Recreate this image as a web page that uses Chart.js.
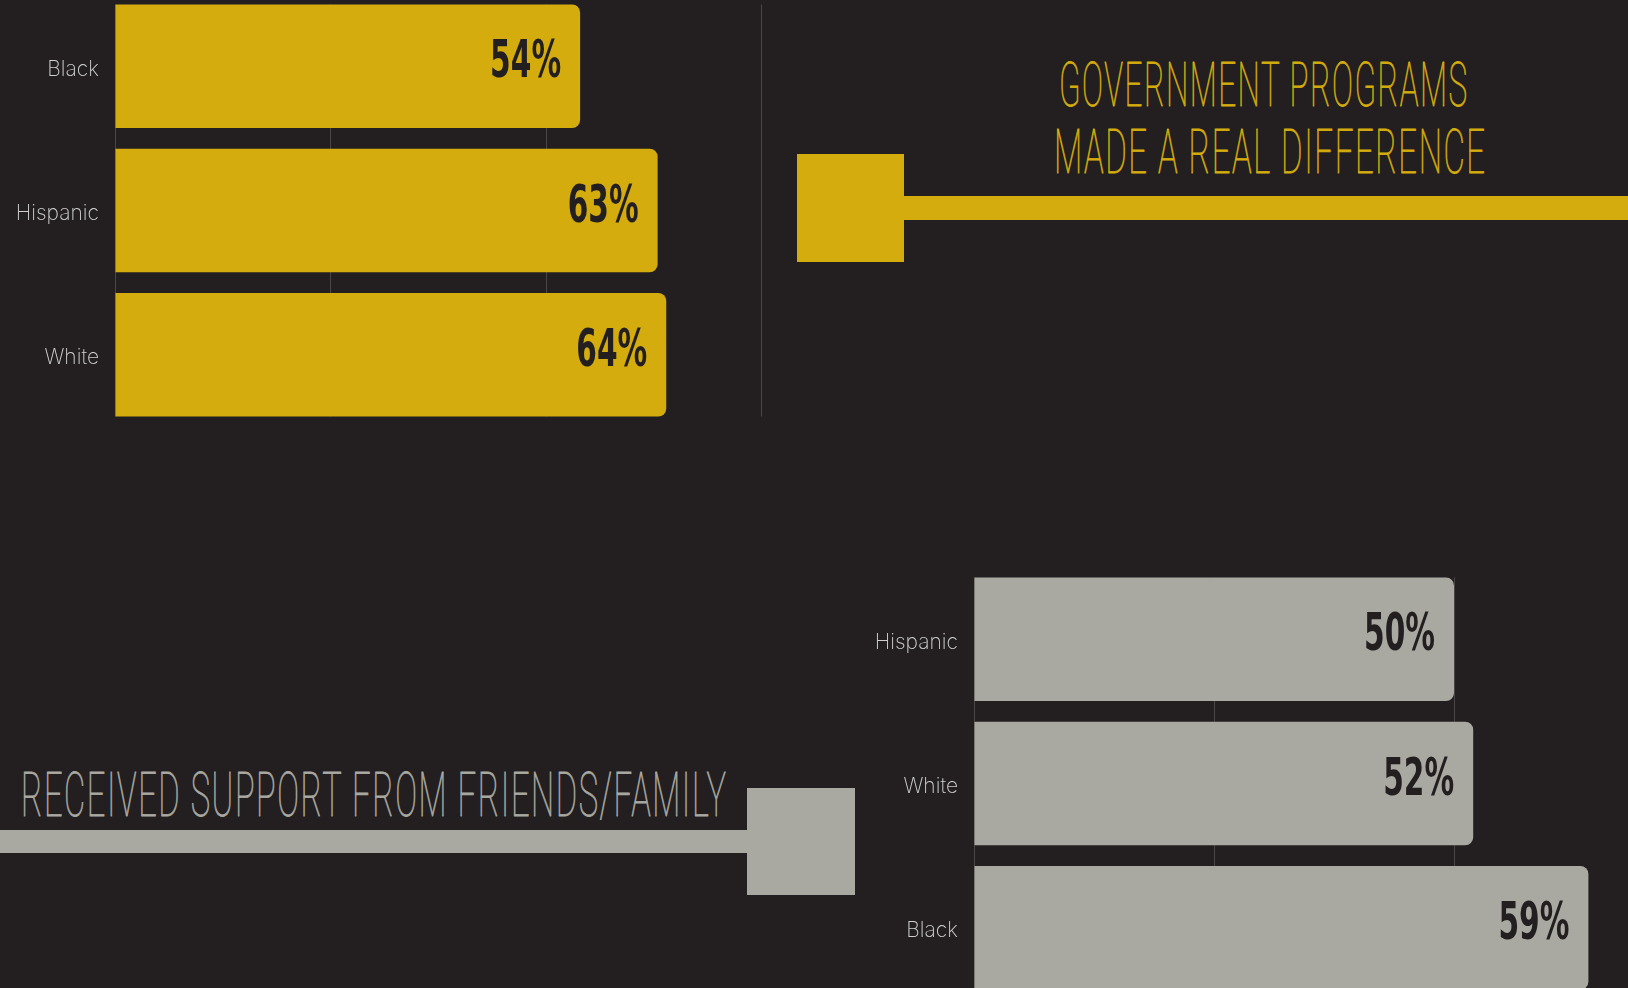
<!DOCTYPE html>
<html><head><meta charset="utf-8">
<script src="https://cdn.jsdelivr.net/npm/chart.js@4.4.1/dist/chart.umd.min.js"></script>
<style>
html,body{margin:0;padding:0;background:#231f20;width:1628px;height:988px;overflow:hidden;position:relative;}
.abs{position:absolute;}
.title{position:absolute;font-family:Roboto,"DejaVu Sans";font-weight:100;font-size:62px;line-height:62px;white-space:nowrap;transform-origin:0 0;letter-spacing:3px;-webkit-text-stroke:0.9px currentColor;}
.wrap{position:absolute;}
</style></head><body>
<!-- decorative connectors -->
<div class="abs" style="left:797px;top:154px;width:107px;height:108px;background:#d4ac0d"></div>
<div class="abs" style="left:903px;top:196px;width:725px;height:24px;background:#d4ac0d"></div>
<div class="abs" style="left:0;top:830px;width:748px;height:23px;background:#a9a9a1"></div>
<div class="abs" style="left:747px;top:788px;width:108px;height:107px;background:#a9a9a1"></div>

<div class="title" id="t1" style="left:1059px;top:54px;color:#d4ac0d">GOVERNMENT PROGRAMS</div>
<div class="title" id="t2" style="left:1054px;top:121px;color:#d4ac0d">MADE A REAL DIFFERENCE</div>
<div class="title" id="t3" style="left:21px;top:764px;color:#a9a9a1">RECEIVED SUPPORT FROM FRIENDS/FAMILY</div>

<div class="wrap" style="left:0;top:-6px;width:763px;height:433px"><canvas id="c1" width="763" height="433"></canvas></div>
<div class="wrap" style="left:860px;top:567px;width:836px;height:433px"><canvas id="c2" width="836" height="433"></canvas></div>

<script>
// ---- data ----
const topCategories = ['Black', 'Hispanic', 'White'];
const topValues = [54, 63, 64];
const topValueLabels = ['54%', '63%', '64%'];

const bottomCategories = ['Hispanic', 'White', 'Black'];
const bottomValues = [50, 52, 64];          // bar lengths as drawn in the picture
const bottomValueLabels = ['50%', '52%', '59%']; // printed labels as shown

const axisTicks = [0, 25, 50, 75];

// ---- styles ----
const BG = '#231f20';
const GOLD = '#d4ac0d';
const GREY = '#a9a9a1';
const GRID = '#4a4647';
const LABEL = '#cfcfcf';

function fit(id, w) {
  const el = document.getElementById(id);
  const nat = el.getBoundingClientRect().width - 3;
  el.style.transform = 'scaleX(' + (w / nat) + ')';
}
fit('t1', 408); fit('t2', 431); fit('t3', 705);

const gridPlugin = {
  id: 'barGrid',
  beforeDatasetsDraw(chart) {
    const meta = chart.getDatasetMeta(0);
    let top = Infinity, bottom = -Infinity;
    meta.data.forEach(b => { top = Math.min(top, b.y - b.height / 2); bottom = Math.max(bottom, b.y + b.height / 2); });
    top = Math.max(top, chart.chartArea.top); bottom = Math.min(bottom, chart.chartArea.bottom);
    const xs = chart.scales.x;
    const ctx = chart.ctx;
    ctx.save();
    ctx.strokeStyle = GRID; ctx.lineWidth = 1;
    xs.ticks.forEach((t, i) => {
      const px = Math.round(xs.getPixelForTick(i)) + 0.5;
      ctx.beginPath(); ctx.moveTo(px, top); ctx.lineTo(px, bottom); ctx.stroke();
    });
    ctx.restore();
  }
};

const VFONT = 'bold 52px "Liberation Sans Narrow", "DejaVu Sans Condensed", "DejaVu Sans", sans-serif';
const valueLabelPlugin = {
  id: 'vlab',
  afterDatasetsDraw(chart, args, opts) {
    const ctx = chart.ctx;
    const meta = chart.getDatasetMeta(0);
    meta.data.forEach((bar, i) => {
      ctx.save();
      ctx.font = VFONT;
      const w = ctx.measureText(opts.labels[i]).width;
      ctx.translate(bar.x - 19, bar.y + 11);
      ctx.scale(71 / w, 1);
      ctx.fillStyle = BG;
      ctx.textAlign = 'right';
      ctx.textBaseline = 'alphabetic';
      ctx.fillText(opts.labels[i], 0, 0);
      ctx.restore();
    });
  }
};

function makeChart(id, cats, vals, labels, color, yWidth) {
  return new Chart(document.getElementById(id), {
    type: 'bar',
    data: {
      labels: cats,
      datasets: [{ data: vals, backgroundColor: color, borderRadius: 8, borderSkipped: 'start',
                   categoryPercentage: 1, barPercentage: 0.856 }]
    },
    options: {
      indexAxis: 'y',
      responsive: false,
      animation: false,
      events: [],
      layout: { padding: { left: 0, right: 2, top: 0, bottom: 0 } },
      plugins: { legend: { display: false }, tooltip: { enabled: false }, vlab: { labels: labels } },
      scales: {
        x: {
          min: axisTicks[0], max: axisTicks[axisTicks.length - 1],
          ticks: { display: false, stepSize: axisTicks[1] - axisTicks[0] },
          grid: { drawOnChartArea: false, drawTicks: false },
          border: { display: false }
        },
        y: {
          offset: true,
          grid: { display: false, drawTicks: true, tickLength: 16 },
          border: { display: false },
          ticks: { color: LABEL, padding: 0, labelOffset: 3,
                   font: { family: 'Inter, Lato, sans-serif', size: 21, weight: '200', lineHeight: 0.01 } },
          afterFit(scale) { scale.width = yWidth; }
        }
      }
    },
    plugins: [gridPlugin, valueLabelPlugin]
  });
}

makeChart('c1', topCategories, topValues, topValueLabels, GOLD, 115);
makeChart('c2', bottomCategories, bottomValues, bottomValueLabels, GREY, 114);
</script>
</body></html>
